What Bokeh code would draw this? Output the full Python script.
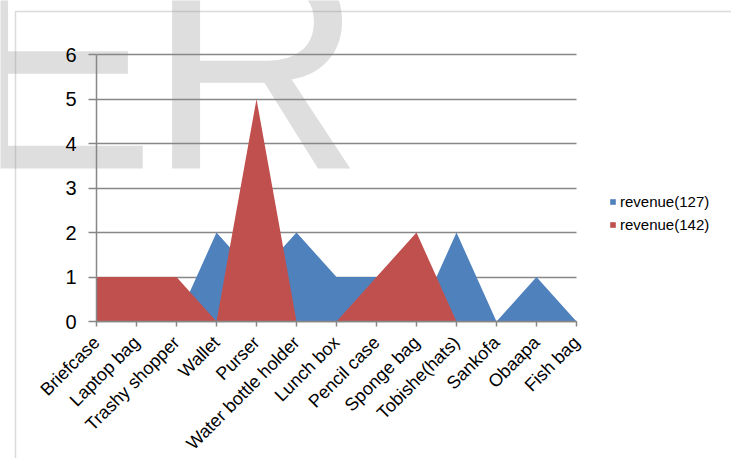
from bokeh.plotting import figure
from bokeh.models import (Range1d, FixedTicker, Legend, LegendItem, Label,
                          BoxAnnotation, ColumnDataSource, LinearAxis, Grid)
from bokeh.embed import file_html
from bokeh.resources import INLINE
from math import pi

categories = ["Briefcase", "Laptop bag", "Trashy shopper", "Wallet", "Purser",
              "Water bottle holder", "Lunch box", "Pencil case", "Sponge bag",
              "Tobishe(hats)", "Sankofa", "Obaapa", "Fish bag"]
revenue_127 = [1, 1, 0, 2, 1, 2, 1, 1, 0, 2, 0, 1, 0]
revenue_142 = [1, 1, 1, 0, 5, 0, 0, 1, 2, 0, 0, 0, 0]
y_ticks = [0, 1, 2, 3, 4, 5, 6]

BLUE = "#4F81BD"
RED = "#C0504D"
GRAY = "#878787"
FONT = "Liberation Sans"

W, H = 731, 458
PLOT_L, PLOT_R, PLOT_T, PLOT_B = 96, 576, 54, 321   # plot-area pixels
n = len(categories)
xs = list(range(n))
ymax = y_ticks[-1]
dx = (PLOT_R - PLOT_L) / (n - 1)
dy = (PLOT_B - PLOT_T) / ymax

src = ColumnDataSource(dict(x=xs, a=revenue_127, b=revenue_142,
                            zero=[0] * n))

p = figure(width=W, height=H, output_backend="svg", toolbar_location=None,
           x_axis_location=None, y_axis_location=None,
           min_border_left=0, min_border_right=0, min_border_top=0,
           min_border_bottom=0,
           x_range=Range1d(-PLOT_L / dx, (W - PLOT_L) / dx),
           y_range=Range1d(-(H - PLOT_B) / dy, PLOT_B / dy))
p.outline_line_color = None
p.background_fill_color = "white"
p.border_fill_color = "white"
p.xgrid.visible = False
p.ygrid.visible = False

# watermark
wm_e = Label(x=-45, y=H - 168 + 104, x_units="screen", y_units="screen",
             text="E", text_font=FONT, text_font_size="300px",
             text_color="#dedede", text_baseline="alphabetic",
             text_align="left", level="image")
wm_r = Label(x=147, y=H - 168 + 104, x_units="screen", y_units="screen",
             text="R", text_font=FONT, text_font_size="300px",
             text_color="#dedede", text_baseline="alphabetic",
             text_align="left", level="image")
p.add_layout(wm_e)
p.add_layout(wm_r)

# horizontal gridlines
if "cross_bounds" in Grid.properties():
    g = Grid(dimension=1, ticker=FixedTicker(ticks=y_ticks),
             bounds=(0, ymax), cross_bounds=(0, n - 1),
             grid_line_color=GRAY, grid_line_width=1.5)
    p.add_layout(g)
else:
    p.segment(x0=[0] * len(y_ticks), y0=y_ticks, x1=[n - 1] * len(y_ticks),
              y1=y_ticks, line_color=GRAY, line_width=1.5)

r1 = p.varea(x="x", y1="zero", y2="a", source=src, fill_color=BLUE)
r2 = p.varea(x="x", y1="zero", y2="b", source=src, fill_color=RED)

# axes
yax = LinearAxis(fixed_location=0, bounds=(0, ymax),
                 ticker=FixedTicker(ticks=y_ticks))
yax.axis_line_color = GRAY
yax.axis_line_width = 1.5
yax.major_tick_line_color = GRAY
yax.major_tick_line_width = 1.5
yax.major_tick_in = 0
yax.major_tick_out = 8
yax.minor_tick_line_color = None
yax.major_label_text_font = FONT
yax.major_label_text_font_size = "20px"
yax.major_label_text_color = "black"
yax.major_label_standoff = 12
p.add_layout(yax, "left")

xax = LinearAxis(fixed_location=0, bounds=(0, n - 1),
                 ticker=FixedTicker(ticks=xs))
xax.major_label_overrides = {i: c for i, c in enumerate(categories)}
xax.major_label_orientation = pi / 4
xax.axis_line_color = GRAY
xax.axis_line_width = 1.5
xax.major_tick_line_color = GRAY
xax.major_tick_line_width = 1.5
xax.major_tick_in = 0
xax.major_tick_out = 5
xax.minor_tick_line_color = None
xax.major_label_text_font = FONT
xax.major_label_text_font_size = "18px"
xax.major_label_text_color = "black"
xax.major_label_standoff = 13
p.add_layout(xax, "below")

legend = Legend(items=[LegendItem(label="revenue(127)", renderers=[r1]),
                       LegendItem(label="revenue(142)", renderers=[r2])],
                location=(609, H - 233), glyph_width=7, glyph_height=7,
                label_standoff=4, padding=0, margin=0, spacing=6,
                label_height=17, border_line_color=None,
                background_fill_alpha=0, label_text_font=FONT,
                label_text_font_size="15px", label_text_color="black")
p.add_layout(legend)

# chart-area border
border = BoxAnnotation(left=15, right=W + 50, top=H - 11, bottom=-50,
                       left_units="screen", right_units="screen",
                       top_units="screen", bottom_units="screen",
                       fill_color=None, fill_alpha=0, line_color=GRAY,
                       line_width=1.5, level="overlay")
p.add_layout(border)

open("out.html", "w").write(file_html(p, INLINE))
